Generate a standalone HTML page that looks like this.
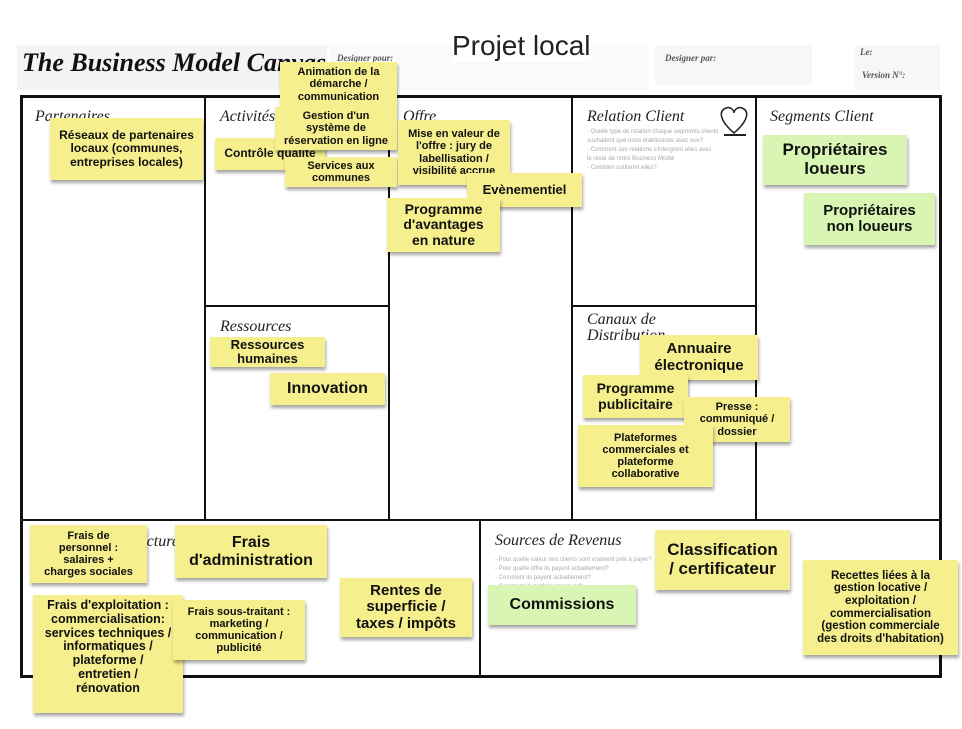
<!DOCTYPE html>
<html><head><meta charset="utf-8"><style>
body{margin:0;width:962px;height:729px;background:#fff;position:relative;overflow:hidden;font-family:"Liberation Sans",sans-serif}
.a{position:absolute}
.hb{background:#f4f4f4}
.ln{position:absolute;background:#111}
.t{position:absolute;font-family:"Liberation Serif",serif;font-style:italic;font-size:16px;color:#222}
.s{position:absolute;background:#f6ef8d;box-shadow:1px 3px 3px rgba(0,0,0,.35);font-weight:bold;color:#111;text-align:center;display:flex;align-items:center;justify-content:center;line-height:1.1;box-sizing:border-box;padding:1px;white-space:nowrap}
.g{background:#d8f5b3}
.q{position:absolute;font-size:6px;color:#aaa;line-height:1.5}
</style></head><body>
<div class="a hb" style="left:17px;top:45px;width:310px;height:45px"></div>
<div class="a" style="left:22px;top:48px;font-family:'Liberation Serif',serif;font-weight:bold;font-style:italic;font-size:26px;color:#111">The Business Model Canvas</div>
<div class="a hb" style="left:330px;top:45px;width:318px;height:45px;background:#fafafa"></div>
<div class="a" style="left:337px;top:53px;font-family:'Liberation Serif',serif;font-style:italic;font-weight:bold;font-size:9px;color:#555">Designer pour:</div>
<div class="a" style="left:452px;top:30px;font-size:28px;color:#222;background:#fff">Projet local</div>
<div class="a hb" style="left:655px;top:45px;width:157px;height:40px;background:#f7f7f7"></div>
<div class="a" style="left:665px;top:53px;font-family:'Liberation Serif',serif;font-style:italic;font-weight:bold;font-size:9px;color:#555">Designer par:</div>
<div class="a hb" style="left:855px;top:45px;width:85px;height:45px;background:#f7f7f7"></div>
<div class="a" style="left:860px;top:47px;font-family:'Liberation Serif',serif;font-style:italic;font-weight:bold;font-size:9px;color:#555">Le:</div>
<div class="a" style="left:862px;top:70px;font-family:'Liberation Serif',serif;font-style:italic;font-weight:bold;font-size:9px;color:#555">Version N°:</div>

<div class="a" style="left:20px;top:95px;width:916px;height:577px;border:3px solid #111"></div>
<div class="ln" style="left:204px;top:97px;width:2px;height:423px"></div>
<div class="ln" style="left:388px;top:97px;width:2px;height:423px"></div>
<div class="ln" style="left:571px;top:97px;width:2px;height:423px"></div>
<div class="ln" style="left:755px;top:97px;width:2px;height:423px"></div>
<div class="ln" style="left:22px;top:519px;width:917px;height:2px"></div>
<div class="ln" style="left:479px;top:520px;width:2px;height:155px"></div>
<div class="ln" style="left:205px;top:305px;width:184px;height:2px"></div>
<div class="ln" style="left:572px;top:305px;width:184px;height:2px"></div>

<div class="t" style="left:35px;top:108px">Partenaires</div>
<div class="t" style="left:220px;top:108px">Activités</div>
<div class="t" style="left:403px;top:108px">Offre</div>
<div class="t" style="left:587px;top:108px">Relation Client</div>
<div class="t" style="left:770px;top:108px">Segments Client</div>
<div class="t" style="left:220px;top:318px">Ressources</div>
<div class="t" style="left:587px;top:312px;line-height:16px">Canaux de<br>Distribution</div>
<div class="t" style="left:120px;top:533px">Structure de Coûts</div>
<div class="t" style="left:495px;top:532px">Sources de Revenus</div>
<div class="q" style="left:587px;top:128px">- Quelle type de relation chaque segments clients<br>souhaitent que nous etablissions avec eux?<br>- Comment ces relations s'intergrent elles avec<br>le reste de notre Business Model<br>- Combien coûtennt elles?</div>
<div class="q" style="left:495px;top:556px">- Pour quelle valeur nos clients sont vraiment prêt à payer?<br>- Pour quelle offre ils payent actuellement?<br>- Comment ils payent actuellement?<br>- Comment ils preferaient payer?</div>
<svg class="a" style="left:718px;top:103px" width="32" height="35"><path d="M16 30 C2 18 0 8 8 5 C13 3 16 8 16 10 C16 8 19 3 24 5 C32 8 30 18 16 30 Z" fill="none" stroke="#222" stroke-width="1.5"/><line x1="6" y1="32" x2="28" y2="32" stroke="#222" stroke-width="2"/></svg>

<div class="s" style="left:50px;top:118px;width:153px;height:62px;font-size:12px">Réseaux de partenaires<br>locaux (communes,<br>entreprises locales)</div>
<div class="s" style="left:280px;top:62px;width:117px;height:45px;font-size:11px">Animation de la<br>démarche /<br>communication</div>
<div class="s" style="left:215px;top:138px;width:110px;height:32px;font-size:12px">Contrôle qualité</div>
<div class="s" style="left:275px;top:107px;width:122px;height:43px;font-size:11px">Gestion d'un<br>système de<br>réservation en ligne</div>
<div class="s" style="left:285px;top:157px;width:112px;height:30px;font-size:11px">Services aux<br>communes</div>
<div class="s" style="left:398px;top:120px;width:112px;height:65px;font-size:11px">Mise en valeur de<br>l'offre : jury de<br>labellisation /<br>visibilité accrue</div>
<div class="s" style="left:467px;top:173px;width:115px;height:34px;font-size:13px">Evènementiel</div>
<div class="s" style="left:387px;top:198px;width:113px;height:54px;font-size:14px">Programme<br>d'avantages<br>en nature</div>
<div class="s g" style="left:763px;top:135px;width:144px;height:50px;font-size:17px">Propriétaires<br>loueurs</div>
<div class="s g" style="left:804px;top:193px;width:131px;height:52px;font-size:15px">Propriétaires<br>non loueurs</div>
<div class="s" style="left:210px;top:337px;width:115px;height:30px;font-size:13px">Ressources<br>humaines</div>
<div class="s" style="left:270px;top:373px;width:115px;height:32px;font-size:16px">Innovation</div>
<div class="s" style="left:640px;top:335px;width:118px;height:45px;font-size:15px">Annuaire<br>électronique</div>
<div class="s" style="left:583px;top:375px;width:105px;height:43px;font-size:14px">Programme<br>publicitaire</div>
<div class="s" style="left:684px;top:397px;width:106px;height:45px;font-size:11px">Presse :<br>communiqué /<br>dossier</div>
<div class="s" style="left:578px;top:425px;width:135px;height:62px;font-size:11px">Plateformes<br>commerciales et<br>plateforme<br>collaborative</div>
<div class="s" style="left:30px;top:525px;width:117px;height:58px;font-size:11px">Frais de<br>personnel :<br>salaires +<br>charges sociales</div>
<div class="s" style="left:175px;top:525px;width:152px;height:53px;font-size:16px">Frais<br>d'administration</div>
<div class="s" style="left:33px;top:595px;width:150px;height:118px;font-size:12.5px;align-items:flex-start;padding-top:4px">Frais d'exploitation :<br>commercialisation:<br>services techniques /<br>informatiques /<br>plateforme /<br>entretien /<br>rénovation</div>
<div class="s" style="left:173px;top:600px;width:132px;height:60px;font-size:11px">Frais sous-traitant :<br>marketing /<br>communication /<br>publicité</div>
<div class="s" style="left:340px;top:578px;width:132px;height:59px;font-size:15px">Rentes de<br>superficie /<br>taxes / impôts</div>
<div class="s" style="left:655px;top:530px;width:135px;height:60px;font-size:17px">Classification<br>/ certificateur</div>
<div class="s g" style="left:488px;top:585px;width:148px;height:40px;font-size:16px">Commissions</div>
<div class="s" style="left:803px;top:560px;width:155px;height:95px;font-size:11.5px">Recettes liées à la<br>gestion locative /<br>exploitation /<br>commercialisation<br>(gestion commerciale<br>des droits d'habitation)</div>
</body></html>
